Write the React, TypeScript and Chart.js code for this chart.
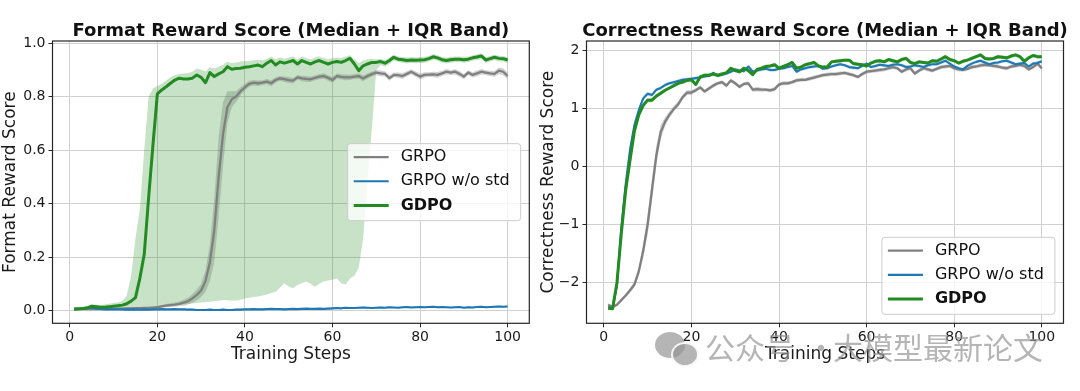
import React, { useEffect, useRef } from "react";
import { Chart, registerables } from "chart.js";

Chart.register(...registerables);

const FONT = "'DejaVu Sans', 'Liberation Sans', sans-serif";

// ---------- categories / ticks ----------
const STEPS = Array.from({ length: 100 }, (_, i) => i + 1);
const X_TICKS = [0, 20, 40, 60, 80, 100];
const FORMAT_Y_TICKS = [0, 0.2, 0.4, 0.6, 0.8, 1.0];
const CORRECT_Y_TICKS = [-2, -1, 0, 1, 2];
const SERIES_NAMES = ["GRPO", "GRPO w/o std", "GDPO"];

// ---------- Format reward (median + IQR) ----------
const FORMAT_GRPO = [
  0.004, 0.004, 0.005, 0.005, 0.005, 0.005, 0.006, 0.006, 0.006, 0.006,
  0.007, 0.007, 0.008, 0.008, 0.009, 0.009, 0.010, 0.010, 0.011, 0.012,
  0.015, 0.018, 0.020, 0.022, 0.025, 0.029, 0.035, 0.045, 0.058, 0.075,
  0.110, 0.180, 0.300, 0.500, 0.660, 0.760, 0.790, 0.800, 0.820, 0.835,
  0.848, 0.852, 0.850, 0.852, 0.856, 0.850, 0.862, 0.868, 0.865, 0.862,
  0.860, 0.872, 0.868, 0.866, 0.865, 0.870, 0.875, 0.877, 0.870, 0.862,
  0.877, 0.874, 0.872, 0.872, 0.875, 0.877, 0.868, 0.877, 0.884, 0.890,
  0.887, 0.885, 0.869, 0.881, 0.880, 0.877, 0.885, 0.893, 0.884, 0.875,
  0.881, 0.882, 0.883, 0.881, 0.887, 0.893, 0.890, 0.893, 0.885, 0.875,
  0.890, 0.881, 0.887, 0.893, 0.890, 0.887, 0.885, 0.897, 0.893, 0.877,
];
const FORMAT_GRPO_IQR = [
  0.004, 0.004, 0.004, 0.004, 0.004, 0.004, 0.004, 0.004, 0.004, 0.004,
  0.004, 0.004, 0.005, 0.005, 0.005, 0.006, 0.006, 0.007, 0.008, 0.009,
  0.010, 0.012, 0.014, 0.016, 0.018, 0.022, 0.026, 0.032, 0.040, 0.050,
  0.080, 0.140, 0.240, 0.300, 0.240, 0.120, 0.060, 0.040, 0.030, 0.025,
  0.022, 0.020, 0.020, 0.018, 0.020, 0.022, 0.020, 0.018, 0.020, 0.022,
  0.020, 0.018, 0.020, 0.022, 0.020, 0.018, 0.020, 0.020, 0.022, 0.020,
  0.018, 0.020, 0.022, 0.020, 0.018, 0.020, 0.022, 0.020, 0.018, 0.020,
  0.022, 0.020, 0.020, 0.018, 0.020, 0.022, 0.020, 0.018, 0.020, 0.022,
  0.020, 0.018, 0.020, 0.022, 0.020, 0.020, 0.018, 0.020, 0.022, 0.020,
  0.018, 0.020, 0.022, 0.020, 0.018, 0.020, 0.022, 0.024, 0.026, 0.024,
];
const FORMAT_NOSTD = [
  0.008, 0.006, 0.007, 0.008, 0.010, 0.007, 0.005, 0.004, 0.004, 0.004,
  0.004, 0.004, 0.003, 0.004, 0.003, 0.003, 0.004, 0.003, 0.004, 0.004,
  0.005, 0.004, 0.004, 0.005, 0.004, 0.004, 0.003, 0.003, 0.002, 0.002,
  0.002, 0.003, 0.002, 0.002, 0.003, 0.002, 0.002, 0.003, 0.003, 0.004,
  0.004, 0.005, 0.004, 0.004, 0.005, 0.006, 0.005, 0.005, 0.004, 0.005,
  0.006, 0.005, 0.006, 0.007, 0.006, 0.006, 0.007, 0.006, 0.007, 0.008,
  0.009, 0.008, 0.010, 0.009, 0.009, 0.010, 0.011, 0.010, 0.009, 0.010,
  0.011, 0.010, 0.012, 0.011, 0.010, 0.012, 0.013, 0.011, 0.012, 0.013,
  0.012, 0.013, 0.014, 0.012, 0.013, 0.012, 0.011, 0.012, 0.013, 0.010,
  0.012, 0.011, 0.013, 0.014, 0.012, 0.013, 0.014, 0.015, 0.014, 0.015,
];
const FORMAT_NOSTD_IQR = [
  0.006, 0.006, 0.006, 0.006, 0.006, 0.006, 0.006, 0.006, 0.006, 0.006,
  0.006, 0.006, 0.006, 0.006, 0.006, 0.006, 0.006, 0.006, 0.006, 0.006,
  0.006, 0.006, 0.006, 0.006, 0.006, 0.006, 0.006, 0.006, 0.006, 0.006,
  0.006, 0.006, 0.006, 0.006, 0.006, 0.006, 0.006, 0.006, 0.006, 0.006,
  0.006, 0.006, 0.006, 0.006, 0.006, 0.006, 0.006, 0.006, 0.006, 0.006,
  0.006, 0.006, 0.006, 0.006, 0.006, 0.006, 0.006, 0.006, 0.006, 0.006,
  0.007, 0.007, 0.007, 0.007, 0.007, 0.007, 0.007, 0.007, 0.007, 0.007,
  0.008, 0.008, 0.008, 0.008, 0.008, 0.008, 0.008, 0.008, 0.008, 0.008,
  0.008, 0.008, 0.008, 0.008, 0.008, 0.008, 0.008, 0.008, 0.008, 0.008,
  0.008, 0.008, 0.008, 0.008, 0.008, 0.008, 0.008, 0.008, 0.008, 0.008,
];
const FORMAT_GDPO = [
  0.005, 0.006, 0.007, 0.010, 0.016, 0.014, 0.012, 0.012, 0.014, 0.016,
  0.018, 0.020, 0.025, 0.035, 0.048, 0.120, 0.210, 0.420, 0.620, 0.810,
  0.825, 0.837, 0.850, 0.862, 0.869, 0.866, 0.866, 0.869, 0.881, 0.872,
  0.852, 0.890, 0.875, 0.885, 0.893, 0.912, 0.902, 0.905, 0.906, 0.910,
  0.912, 0.915, 0.918, 0.912, 0.925, 0.935, 0.918, 0.930, 0.925, 0.930,
  0.935, 0.922, 0.935, 0.928, 0.922, 0.930, 0.935, 0.928, 0.922, 0.928,
  0.931, 0.928, 0.935, 0.943, 0.922, 0.897, 0.915, 0.922, 0.928, 0.928,
  0.931, 0.925, 0.935, 0.947, 0.940, 0.938, 0.935, 0.937, 0.936, 0.937,
  0.938, 0.942, 0.949, 0.945, 0.938, 0.935, 0.938, 0.940, 0.940, 0.938,
  0.940, 0.945, 0.948, 0.952, 0.937, 0.942, 0.947, 0.943, 0.942, 0.937,
];
const FORMAT_GDPO_Q1 = [
  0.002, 0.003, 0.004, 0.006, 0.010, 0.008, 0.007, 0.006, 0.006, 0.006,
  0.006, 0.006, 0.007, 0.008, 0.008, 0.009, 0.010, 0.010, 0.011, 0.012,
  0.013, 0.015, 0.017, 0.019, 0.020, 0.022, 0.024, 0.026, 0.028, 0.030,
  0.032, 0.033, 0.035, 0.036, 0.039, 0.038, 0.037, 0.037, 0.040, 0.045,
  0.048, 0.050, 0.052, 0.056, 0.060, 0.065, 0.070, 0.085, 0.102, 0.090,
  0.083, 0.095, 0.102, 0.108, 0.100, 0.089, 0.100, 0.108, 0.112, 0.115,
  0.120, 0.102, 0.097, 0.120, 0.130, 0.160, 0.270, 0.480, 0.680, 0.900,
  0.918, 0.912, 0.922, 0.935, 0.929, 0.927, 0.924, 0.926, 0.925, 0.926,
  0.927, 0.931, 0.938, 0.934, 0.927, 0.924, 0.927, 0.929, 0.929, 0.927,
  0.929, 0.934, 0.937, 0.941, 0.926, 0.931, 0.936, 0.932, 0.931, 0.926,
];
const FORMAT_GDPO_Q3 = [
  0.008, 0.010, 0.012, 0.016, 0.022, 0.022, 0.020, 0.022, 0.025, 0.028,
  0.030, 0.035, 0.055, 0.130, 0.270, 0.380, 0.600, 0.800, 0.830, 0.840,
  0.848, 0.860, 0.872, 0.880, 0.885, 0.886, 0.888, 0.893, 0.905, 0.900,
  0.895, 0.910, 0.905, 0.912, 0.918, 0.930, 0.925, 0.928, 0.931, 0.932,
  0.934, 0.936, 0.938, 0.935, 0.942, 0.950, 0.940, 0.946, 0.942, 0.946,
  0.950, 0.940, 0.950, 0.944, 0.940, 0.946, 0.950, 0.944, 0.940, 0.944,
  0.946, 0.944, 0.950, 0.955, 0.940, 0.925, 0.935, 0.940, 0.942, 0.940,
  0.942, 0.936, 0.946, 0.957, 0.950, 0.948, 0.946, 0.948, 0.947, 0.948,
  0.949, 0.952, 0.959, 0.955, 0.948, 0.946, 0.949, 0.950, 0.950, 0.949,
  0.950, 0.955, 0.958, 0.962, 0.947, 0.952, 0.957, 0.953, 0.952, 0.947,
];

// ---------- Correctness reward (median + IQR) ----------
const CORRECT_GRPO = [
  -2.38, -2.42, -2.38, -2.30, -2.22, -2.13, -2.03, -1.80, -1.45, -1.00,
  -0.40, 0.20, 0.60, 0.78, 0.90, 1.00, 1.08, 1.20, 1.28, 1.28,
  1.32, 1.37, 1.30, 1.35, 1.40, 1.44, 1.46, 1.40, 1.49, 1.44,
  1.38, 1.43, 1.44, 1.33, 1.34, 1.33, 1.33, 1.32, 1.34, 1.42,
  1.44, 1.44, 1.46, 1.49, 1.50, 1.50, 1.52, 1.54, 1.56, 1.58,
  1.59, 1.60, 1.60, 1.61, 1.62, 1.60, 1.58, 1.55, 1.60, 1.64,
  1.65, 1.66, 1.67, 1.68, 1.70, 1.72, 1.70, 1.64, 1.68, 1.70,
  1.61, 1.66, 1.70, 1.68, 1.66, 1.69, 1.72, 1.73, 1.74, 1.70,
  1.68, 1.67, 1.69, 1.72, 1.73, 1.75, 1.76, 1.75, 1.74, 1.73,
  1.71, 1.70, 1.73, 1.74, 1.76, 1.74, 1.68, 1.72, 1.78, 1.70,
];
const CORRECT_GRPO_IQR = [
  0.05, 0.05, 0.05, 0.05, 0.06, 0.08, 0.10, 0.16, 0.25, 0.35,
  0.40, 0.35, 0.25, 0.16, 0.12, 0.10, 0.10, 0.09, 0.08, 0.08,
  0.07, 0.07, 0.06, 0.07, 0.07, 0.06, 0.07, 0.07, 0.06, 0.07,
  0.07, 0.06, 0.07, 0.07, 0.08, 0.07, 0.06, 0.07, 0.07, 0.06,
  0.07, 0.07, 0.06, 0.07, 0.07, 0.06, 0.07, 0.07, 0.06, 0.07,
  0.07, 0.06, 0.07, 0.07, 0.06, 0.07, 0.07, 0.06, 0.07, 0.07,
  0.06, 0.07, 0.07, 0.06, 0.07, 0.07, 0.06, 0.07, 0.07, 0.06,
  0.07, 0.07, 0.06, 0.07, 0.07, 0.06, 0.07, 0.07, 0.06, 0.07,
  0.07, 0.06, 0.07, 0.07, 0.06, 0.07, 0.07, 0.06, 0.07, 0.07,
  0.06, 0.07, 0.07, 0.06, 0.07, 0.07, 0.06, 0.07, 0.08, 0.07,
];
const CORRECT_NOSTD = [
  -2.42, -2.44, -2.05, -1.05, -0.30, 0.30, 0.72, 0.98, 1.18, 1.26,
  1.24, 1.33, 1.36, 1.41, 1.44, 1.46, 1.48, 1.50, 1.51, 1.52,
  1.53, 1.54, 1.56, 1.57, 1.62, 1.57, 1.59, 1.61, 1.64, 1.68,
  1.66, 1.65, 1.73, 1.64, 1.66, 1.68, 1.69, 1.67, 1.67, 1.69,
  1.70, 1.72, 1.74, 1.64, 1.68, 1.70, 1.72, 1.73, 1.74, 1.69,
  1.70, 1.73, 1.75, 1.77, 1.75, 1.72, 1.71, 1.70, 1.74, 1.78,
  1.72, 1.74, 1.76, 1.75, 1.74, 1.76, 1.77, 1.75, 1.72, 1.73,
  1.75, 1.74, 1.72, 1.75, 1.77, 1.77, 1.80, 1.83, 1.78, 1.73,
  1.70, 1.68, 1.74, 1.78, 1.81, 1.83, 1.80, 1.77, 1.79, 1.80,
  1.82, 1.83, 1.80, 1.77, 1.78, 1.79, 1.73, 1.78, 1.79, 1.82,
];
const CORRECT_NOSTD_IQR = [
  0.04, 0.04, 0.20, 0.30, 0.30, 0.24, 0.16, 0.10, 0.08, 0.07,
  0.07, 0.06, 0.06, 0.06, 0.06, 0.06, 0.06, 0.06, 0.06, 0.06,
  0.06, 0.05, 0.06, 0.06, 0.05, 0.06, 0.06, 0.05, 0.06, 0.06,
  0.05, 0.06, 0.06, 0.05, 0.06, 0.06, 0.05, 0.06, 0.06, 0.05,
  0.06, 0.06, 0.05, 0.06, 0.06, 0.05, 0.06, 0.06, 0.05, 0.06,
  0.06, 0.05, 0.06, 0.06, 0.05, 0.06, 0.06, 0.05, 0.06, 0.06,
  0.05, 0.06, 0.06, 0.05, 0.06, 0.06, 0.05, 0.06, 0.06, 0.05,
  0.06, 0.06, 0.05, 0.06, 0.06, 0.05, 0.06, 0.06, 0.05, 0.06,
  0.06, 0.05, 0.06, 0.06, 0.05, 0.06, 0.06, 0.05, 0.06, 0.06,
  0.05, 0.06, 0.06, 0.05, 0.06, 0.06, 0.05, 0.06, 0.06, 0.06,
];
const CORRECT_GDPO = [
  -2.44, -2.45, -2.00, -1.15, -0.40, 0.12, 0.62, 0.90, 1.06, 1.15,
  1.15, 1.22, 1.27, 1.32, 1.36, 1.40, 1.44, 1.46, 1.49, 1.50,
  1.42, 1.55, 1.58, 1.58, 1.60, 1.58, 1.60, 1.62, 1.70, 1.66,
  1.64, 1.70, 1.66, 1.59, 1.68, 1.70, 1.73, 1.74, 1.76, 1.70,
  1.73, 1.76, 1.80, 1.70, 1.72, 1.76, 1.78, 1.80, 1.74, 1.72,
  1.72, 1.81, 1.82, 1.83, 1.84, 1.84, 1.78, 1.77, 1.76, 1.74,
  1.79, 1.82, 1.83, 1.81, 1.85, 1.83, 1.81, 1.85, 1.87, 1.80,
  1.78, 1.81, 1.80, 1.79, 1.83, 1.82, 1.86, 1.90, 1.85, 1.83,
  1.79, 1.82, 1.84, 1.87, 1.90, 1.93, 1.87, 1.86, 1.87, 1.90,
  1.89, 1.88, 1.91, 1.93, 1.90, 1.82, 1.88, 1.92, 1.90, 1.90,
];
const CORRECT_GDPO_IQR = [
  0.04, 0.04, 0.20, 0.30, 0.30, 0.25, 0.18, 0.12, 0.10, 0.08,
  0.08, 0.07, 0.07, 0.06, 0.06, 0.06, 0.06, 0.06, 0.06, 0.06,
  0.07, 0.06, 0.06, 0.07, 0.06, 0.06, 0.07, 0.06, 0.06, 0.07,
  0.06, 0.06, 0.07, 0.06, 0.06, 0.07, 0.06, 0.06, 0.07, 0.06,
  0.06, 0.07, 0.06, 0.06, 0.07, 0.06, 0.06, 0.07, 0.06, 0.06,
  0.07, 0.06, 0.06, 0.07, 0.06, 0.06, 0.07, 0.06, 0.06, 0.07,
  0.06, 0.06, 0.07, 0.06, 0.06, 0.07, 0.06, 0.06, 0.07, 0.06,
  0.06, 0.07, 0.06, 0.06, 0.07, 0.06, 0.06, 0.07, 0.06, 0.06,
  0.07, 0.06, 0.06, 0.07, 0.06, 0.06, 0.07, 0.06, 0.06, 0.07,
  0.06, 0.06, 0.07, 0.06, 0.06, 0.07, 0.06, 0.06, 0.07, 0.06,
];

// ---------- styles ----------
const COLORS = ["#808080", "#1f77b4", "#228b22"];
const BAND_COLORS = ["rgba(110,110,110,0.30)", "rgba(31,119,180,0.25)", "rgba(34,139,34,0.25)"];
const LINE_WIDTHS = [2.3, 2.1, 3];
const BOLD = [false, false, true];

type Series = { name: string; color: string; band: string; width: number; bold: boolean; med: number[]; lo: number[]; hi: number[] };

function withIqr(med: number[], iqr: number[]) {
  return { lo: med.map((m, i) => m - iqr[i] / 2), hi: med.map((m, i) => m + iqr[i] / 2) };
}

function makeSeries(meds: number[][], bands: { lo: number[]; hi: number[] }[]): Series[] {
  return SERIES_NAMES.map((name, k) => ({
    name,
    color: COLORS[k],
    band: BAND_COLORS[k],
    width: LINE_WIDTHS[k],
    bold: BOLD[k],
    med: meds[k],
    lo: bands[k].lo,
    hi: bands[k].hi,
  }));
}

function pts(arr: number[]) {
  return STEPS.map((x, i) => ({ x, y: arr[i] }));
}

function buildDatasets(series: Series[]) {
  const ds: any[] = [];
  series.forEach((s, k) => {
    ds.push({ label: s.name + " q1", data: pts(s.lo), borderWidth: 0, pointRadius: 0, fill: false, order: 12 - k });
    ds.push({ label: s.name + " q3", data: pts(s.hi), borderWidth: 0, pointRadius: 0, fill: "-1", backgroundColor: s.band, order: 12 - k });
  });
  series.forEach((s, k) => {
    ds.push({
      label: s.name,
      data: pts(s.med),
      borderColor: s.color,
      borderWidth: s.width,
      pointRadius: 0,
      fill: false,
      tension: 0,
      borderJoinStyle: "round",
      order: 2 - k,
    });
  });
  return ds;
}

type Cfg = {
  title: string;
  yTitle: string;
  series: Series[];
  yMin: number;
  yMax: number;
  yTicks: number[];
  yFmt: (v: number) => string;
  axisWidth: number;
  padRight: number;
  yTitlePad: number;
  legendPos: "center" | "lower";
};

function makeConfig(c: Cfg): any {
  const decor = {
    id: "decor",
    afterDraw(chart: any) {
      const { ctx, chartArea: a } = chart;
      ctx.save();
      // title
      ctx.fillStyle = "#111";
      ctx.font = `bold 18px ${FONT}`;
      ctx.textAlign = "center";
      ctx.textBaseline = "alphabetic";
      ctx.fillText(c.title, (a.left + a.right) / 2, 35.7);
      // frame
      ctx.strokeStyle = "#262626";
      ctx.lineWidth = 1.2;
      ctx.strokeRect(a.left, a.top, a.right - a.left, a.bottom - a.top);
      // legend
      const w = 173;
      const h = 77;
      const x = a.right - 8.6 - w;
      const y = c.legendPos === "center" ? (a.top + a.bottom) / 2 - h / 2 : a.bottom - 9 - h;
      ctx.beginPath();
      ctx.roundRect(x, y, w, h, 3);
      ctx.fillStyle = "rgba(255,255,255,0.8)";
      ctx.fill();
      ctx.strokeStyle = "#cccccc";
      ctx.lineWidth = 1;
      ctx.stroke();
      c.series.forEach((s, i) => {
        const cy = y + 13.4 + i * 24.2;
        ctx.beginPath();
        ctx.moveTo(x + 6, cy);
        ctx.lineTo(x + 41, cy);
        ctx.strokeStyle = s.color;
        ctx.lineWidth = s.width;
        ctx.stroke();
        ctx.fillStyle = "#111";
        ctx.font = `${s.bold ? "bold " : ""}16px ${FONT}`;
        ctx.textAlign = "left";
        ctx.textBaseline = "middle";
        ctx.fillText(s.name, x + 53, cy);
      });
      ctx.restore();
    },
  };

  const grid = {
    color: "#d0d0d0",
    lineWidth: 1,
    drawTicks: true,
    tickLength: 4,
    tickColor: "#262626",
    tickWidth: 1,
  };

  return {
    type: "line",
    data: { datasets: buildDatasets(c.series) },
    options: {
      animation: false,
      responsive: false,
      events: [],
      layout: { padding: { top: 41, right: c.padRight, bottom: 0, left: 0 } },
      plugins: { legend: { display: false }, tooltip: { enabled: false }, title: { display: false } },
      scales: {
        x: {
          type: "linear",
          min: -3.95,
          max: 104.95,
          afterBuildTicks: (s: any) => {
            s.ticks = X_TICKS.map((v) => ({ value: v }));
          },
          afterFit: (s: any) => {
            s.height = 67.7;
          },
          grid,
          border: { display: false },
          ticks: {
            autoSkip: false,
            maxRotation: 0,
            padding: 2,
            color: "#1a1a1a",
            font: { family: FONT, size: 14 },
            callback: (v: number) => String(v),
          },
          title: {
            display: true,
            text: "Training Steps",
            color: "#1a1a1a",
            font: { family: FONT, size: 17 },
            padding: { top: 0, bottom: 26 },
          },
        },
        y: {
          type: "linear",
          min: c.yMin,
          max: c.yMax,
          afterBuildTicks: (s: any) => {
            s.ticks = c.yTicks.map((v) => ({ value: v }));
          },
          afterFit: (s: any) => {
            s.width = c.axisWidth;
          },
          grid,
          border: { display: false },
          ticks: {
            autoSkip: false,
            padding: 3,
            color: "#1a1a1a",
            font: { family: FONT, size: 14 },
            callback: (v: number) => c.yFmt(v),
          },
          title: {
            display: true,
            text: c.yTitle,
            color: "#1a1a1a",
            font: { family: FONT, size: 17 },
            padding: { top: c.yTitlePad, bottom: 0 },
          },
        },
      },
    },
    plugins: [decor],
  };
}

function buildFormat() {
  const series = makeSeries(
    [FORMAT_GRPO, FORMAT_NOSTD, FORMAT_GDPO],
    [withIqr(FORMAT_GRPO, FORMAT_GRPO_IQR), withIqr(FORMAT_NOSTD, FORMAT_NOSTD_IQR), { lo: FORMAT_GDPO_Q1, hi: FORMAT_GDPO_Q3 }]
  );
  return makeConfig({
    title: "Format Reward Score (Median + IQR Band)",
    yTitle: "Format Reward Score",
    series,
    yMin: -0.048,
    yMax: 1.008,
    yTicks: FORMAT_Y_TICKS,
    yFmt: (v) => v.toFixed(1),
    axisWidth: 52.5,
    padRight: 5.7,
    yTitlePad: 0,
    legendPos: "center",
  });
}

function buildCorrect() {
  const series = makeSeries(
    [CORRECT_GRPO, CORRECT_NOSTD, CORRECT_GDPO],
    [withIqr(CORRECT_GRPO, CORRECT_GRPO_IQR), withIqr(CORRECT_NOSTD, CORRECT_NOSTD_IQR), withIqr(CORRECT_GDPO, CORRECT_GDPO_IQR)]
  );
  return makeConfig({
    title: "Correctness Reward Score (Median + IQR Band)",
    yTitle: "Correctness Reward Score",
    series,
    yMin: -2.7,
    yMax: 2.17,
    yTicks: CORRECT_Y_TICKS,
    yFmt: (v) => String(v).replace("-", "\u2212"),
    axisWidth: 51.5,
    padRight: 16.5,
    yTitlePad: 3,
    legendPos: "lower",
  });
}

function ChartCanvas({ build, left, width }: { build: () => any; left: number; width: number }) {
  const ref = useRef<HTMLCanvasElement>(null);
  useEffect(() => {
    const chart = new Chart(ref.current as HTMLCanvasElement, build());
    return () => chart.destroy();
  }, []);
  return (
    <canvas
      ref={ref}
      width={width}
      height={391}
      style={{ position: "absolute", left, top: 0, width, height: 391 }}
    />
  );
}

function Watermark() {
  const c = "rgba(150,150,150,0.7)";
  const txt: React.CSSProperties = {
    position: "absolute",
    top: 331,
    fontFamily: "'Noto Sans CJK SC', sans-serif",
    fontSize: 30,
    lineHeight: "30px",
    color: c,
    whiteSpace: "nowrap",
  };
  return (
    <>
      <div style={{ position: "absolute", left: 655, top: 332, width: 30, height: 26, borderRadius: "50%", background: c }} />
      <div style={{ position: "absolute", left: 671, top: 342, width: 24, height: 21, borderRadius: "50%", background: c, border: "2px solid rgba(255,255,255,0.9)" }} />
      <span style={{ ...txt, left: 705 }}>公众号</span>
      <span style={{ ...txt, left: 806 }}>·</span>
      <span style={{ ...txt, left: 833 }}>大模型最新论文</span>
    </>
  );
}

export default function App() {
  return (
    <div style={{ position: "fixed", left: 0, top: 0, width: 1080, height: 391, background: "#fff", overflow: "hidden" }}>
      <ChartCanvas build={buildFormat} left={0} width={535} />
      <ChartCanvas build={buildCorrect} left={535} width={545} />
      <Watermark />
    </div>
  );
}
